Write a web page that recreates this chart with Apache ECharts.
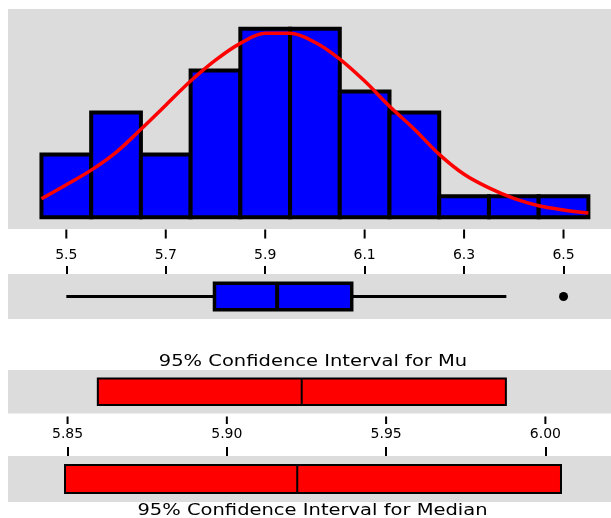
<!DOCTYPE html>
<html>
<head>
<meta charset="utf-8">
<title>Graphical Summary</title>
<script src="https://cdn.jsdelivr.net/npm/echarts@6/dist/echarts.min.js"></script>
<style>
  html, body { margin: 0; padding: 0; background: #fff; }
  #chart { width: 611px; height: 518px; }
</style>
</head>
<body>
<div id="chart"></div>
<script>
// histogram: bin midpoints and counts
const binMids = [5.5, 5.6, 5.7, 5.8, 5.9, 6.0, 6.1, 6.2, 6.3, 6.4, 6.5]
const binCounts = [3, 5, 3, 7, 9, 9, 6, 5, 1, 1, 1]
const binWidth = 0.1

// fitted normal curve
const curveX = [5.45, 5.50, 5.55, 5.60, 5.65, 5.70, 5.75, 5.80, 5.85, 5.90, 5.95, 6.00,
                6.05, 6.10, 6.15, 6.20, 6.25, 6.30, 6.35, 6.40, 6.45, 6.50, 6.55]
const curveY = [0.88, 1.55, 2.25, 3.1, 4.2, 5.35, 6.5, 7.5, 8.3, 8.78, 8.78, 8.35,
                7.55, 6.5, 5.3, 4.2, 3.0, 2.05, 1.4, 0.9, 0.55, 0.35, 0.2]

// boxplot: lower whisker, Q1, median, Q3, upper whisker
const boxStats = [5.5, 5.798, 5.924, 6.074, 6.385]
const outliers = [6.5]

// 95% confidence intervals: low, centre, high
const muCI = [5.8595, 5.9235, 5.9876]
const medianCI = [5.8492, 5.9221, 6.0049]

const histTicks = [5.5, 5.7, 5.9, 6.1, 6.3, 6.5]
const ciTicks = [5.85, 5.90, 5.95, 6.00]

const colors = {
  panel: '#dcdcdc',
  blue: '#0000ff',
  red: '#ff0000',
  ink: '#000000'
}
const labelFont = 'DejaVu Sans'
const histRange = [5.3827, 6.5955]
const ciRange = [5.8313, 6.0206]

const chart = echarts.init(document.getElementById('chart'))

// x axis on top of its grid that only draws tick marks, pointing up
const tickAxis = (grid, range, ticks, len) => ({
  gridIndex: grid,
  type: 'value',
  min: range[0],
  max: range[1],
  position: 'top',
  axisLine: { show: false, onZero: false },
  splitLine: { show: false },
  axisLabel: { show: false },
  axisTick: {
    show: true,
    length: len,
    customValues: ticks,
    lineStyle: { color: colors.ink, width: 2 }
  }
})

// x axis that only draws the tick labels
const labelAxis = (grid, range, ticks, digits, margin) => ({
  gridIndex: grid,
  type: 'value',
  min: range[0],
  max: range[1],
  position: 'bottom',
  axisLine: { show: false, onZero: false },
  splitLine: { show: false },
  axisTick: { show: false },
  axisLabel: {
    show: true,
    customValues: ticks,
    formatter: v => v.toFixed(digits),
    margin: margin,
    color: colors.ink,
    fontSize: 14,
    fontFamily: labelFont
  }
})

const hiddenY = grid => ({
  gridIndex: grid, type: 'value', min: 0, max: 1, show: false
})

const panelGrid = (top, height) => ({
  left: 8, right: 0, top: top, height: height,
  show: true, backgroundColor: colors.panel, borderWidth: 0,
  outerBoundsMode: 'none'
})

// CI bar: rectangle from low to high with a line at the centre value
const ciRender = halfH => (params, api) => {
  const y = api.coord([api.value(0), 0.5])[1]
  const lo = api.coord([api.value(0), 0.5])[0]
  const mid = api.coord([api.value(1), 0.5])[0]
  const hi = api.coord([api.value(2), 0.5])[0]
  return {
    type: 'group',
    children: [
      { type: 'rect', shape: { x: lo, y: y - halfH, width: hi - lo, height: halfH * 2 },
        style: { fill: colors.red, stroke: colors.ink, lineWidth: 2 } },
      { type: 'line', shape: { x1: mid, y1: y - halfH, x2: mid, y2: y + halfH },
        style: { stroke: colors.ink, lineWidth: 2 } }
    ]
  }
}

chart.setOption({
  animation: false,
  backgroundColor: '#fff',
  grid: [
    panelGrid(9, 220),      // histogram
    panelGrid(274, 45),     // boxplot
    panelGrid(370, 43.5),   // CI for mu
    panelGrid(456, 46)      // CI for median
  ],
  xAxis: [
    labelAxis(0, histRange, histTicks, 1, 19.5),
    tickAxis(1, histRange, histTicks, 8),
    labelAxis(2, ciRange, ciTicks, 2, 14),
    tickAxis(3, ciRange, ciTicks, 9)
  ],
  yAxis: [
    { gridIndex: 0, type: 'value', min: -0.56, max: 9.94, show: false },
    hiddenY(1),
    hiddenY(2),
    hiddenY(3)
  ],
  graphic: {
    elements: [
      {
        id: 'title-mu',
        type: 'text', x: 313, y: 362.5, scaleX: 1.3, silent: true,
        style: {
          text: '95% Confidence Interval for Mu',
          fill: colors.ink, fontSize: 15, fontFamily: labelFont,
          textAlign: 'center', textVerticalAlign: 'middle'
        }
      },
      {
        id: 'title-median',
        type: 'text', x: 312.5, y: 511, scaleX: 1.3, silent: true,
        style: {
          text: '95% Confidence Interval for Median',
          fill: colors.ink, fontSize: 15, fontFamily: labelFont,
          textAlign: 'center', textVerticalAlign: 'middle'
        }
      }
    ]
  },
  series: [
    {
      name: 'histogram',
      type: 'custom',
      xAxisIndex: 0,
      yAxisIndex: 0,
      data: binMids.map((m, i) => [m, binCounts[i]]),
      renderItem: (params, api) => {
        const mid = api.value(0)
        const p0 = api.coord([mid - binWidth / 2, api.value(1)])
        const p1 = api.coord([mid + binWidth / 2, 0])
        return {
          type: 'rect',
          shape: { x: p0[0], y: p0[1], width: p1[0] - p0[0], height: p1[1] - p0[1] },
          style: { fill: colors.blue, stroke: colors.ink, lineWidth: 4 }
        }
      }
    },
    {
      name: 'normal fit',
      type: 'line',
      xAxisIndex: 0,
      yAxisIndex: 0,
      smooth: 0.35,
      showSymbol: false,
      z: 5,
      lineStyle: { color: colors.red, width: 3.5 },
      data: curveX.map((x, i) => [x, curveY[i]])
    },
    {
      name: 'boxplot',
      type: 'custom',
      xAxisIndex: 1,
      yAxisIndex: 1,
      encode: { x: [0, 1, 2, 3, 4] },
      data: [boxStats],
      renderItem: (params, api) => {
        const px = [0, 1, 2, 3, 4].map(i => api.coord([api.value(i), 0.5])[0])
        const y = api.coord([api.value(0), 0.5])[1]
        const h = 13.3
        return {
          type: 'group',
          children: [
            { type: 'line', shape: { x1: px[0], y1: y, x2: px[1], y2: y },
              style: { stroke: colors.ink, lineWidth: 3 } },
            { type: 'line', shape: { x1: px[3], y1: y, x2: px[4], y2: y },
              style: { stroke: colors.ink, lineWidth: 3 } },
            { type: 'rect', shape: { x: px[1], y: y - h, width: px[3] - px[1], height: h * 2 },
              style: { fill: colors.blue, stroke: colors.ink, lineWidth: 3.5 } },
            { type: 'line', shape: { x1: px[2], y1: y - h, x2: px[2], y2: y + h },
              style: { stroke: colors.ink, lineWidth: 4 } }
          ]
        }
      }
    },
    {
      name: 'outliers',
      type: 'scatter',
      xAxisIndex: 1,
      yAxisIndex: 1,
      symbolSize: 9,
      itemStyle: { color: colors.ink, opacity: 1 },
      data: outliers.map(v => [v, 0.5])
    },
    {
      name: 'CI mu',
      type: 'custom',
      xAxisIndex: 2,
      yAxisIndex: 2,
      encode: { x: [0, 1, 2] },
      data: [muCI],
      renderItem: ciRender(13.2)
    },
    {
      name: 'CI median',
      type: 'custom',
      xAxisIndex: 3,
      yAxisIndex: 3,
      encode: { x: [0, 1, 2] },
      data: [medianCI],
      renderItem: ciRender(14.1)
    }
  ]
})

// tick marks hanging below the histogram and the mu panel,
// placed through each axis' own scale, on their own top layer
const tickMarks = (axisIndex, ticks, y0, len, tag) =>
  ticks.map((v, i) => {
    let x = chart.convertToPixel({ xAxisIndex: axisIndex }, v)
    if (Array.isArray(x)) x = x[0]
    return {
      id: tag + i,
      type: 'line',
      silent: true,
      zlevel: 1,
      z: 100,
      shape: { x1: x, y1: y0, x2: x, y2: y0 + len },
      style: { stroke: colors.ink, lineWidth: 2 }
    }
  })

chart.setOption({
  graphic: {
    elements: [
      ...tickMarks(0, histTicks, 229.5, 9, 'hist-tick-'),
      ...tickMarks(2, ciTicks, 416.5, 7.5, 'ci-tick-')
    ]
  }
})

window.addEventListener('resize', () => chart.resize())
</script>
</body>
</html>
